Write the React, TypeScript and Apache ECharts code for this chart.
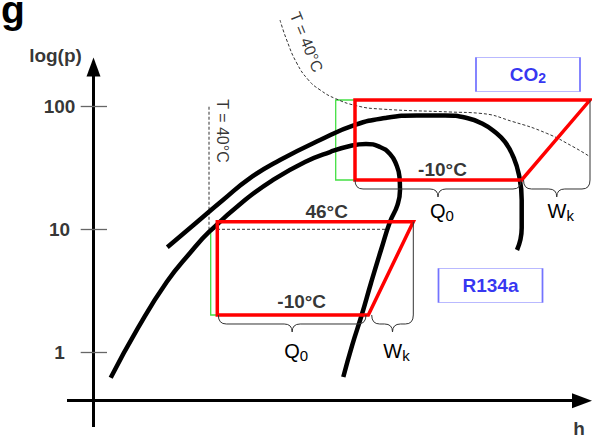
import React, { useEffect, useRef } from "react";
import * as echarts from "echarts";

const FONT = '"Liberation Sans", Arial, Helvetica, sans-serif';

// h: specific enthalpy (arbitrary units, 0 at the p-axis); p: pressure in bar (log axis)
const r134aDome: [number, number][] = [
  [17.2, 0.622], [44.5, 1.58], [73.2, 3.73], [96.5, 6.42], [116.5, 9.69],
  [151.5, 17.3], [179.5, 25.2], [211.5, 35.3], [236.5, 42.5], [256.5, 47.6],
  [272.5, 49.4], [286.5, 46.7], [296.5, 41.0], [302.5, 34.0], [306, 26.6],
  [306.5, 20.9], [304, 15.8], [296.5, 11.5], [287.5, 6.79], [277.5, 3.66],
  [268.2, 2.01], [258.5, 1.13], [249.8, 0.63],
];
const co2Dome: [number, number][] = [
  [73.8, 7.14], [96.5, 10.25], [129.5, 17.3], [156.5, 26.1], [186.5, 36.6],
  [226.5, 53.2], [261.5, 70.5], [291.5, 80.3], [323.5, 84.2], [351.5, 84.2],
  [373.5, 80.3], [389.5, 71.8], [401.5, 61.8], [411.5, 51.3], [419.5, 39.4],
  [425.5, 27.6], [428.2, 17.3], [428.2, 10.25], [423.5, 6.79],
];
const co2Isotherm40: [number, number][] = [
  [186.5, 503], [193.2, 346], [203.2, 225], [214.8, 164], [226.5, 136],
  [241.5, 116], [263.2, 101], [286.5, 95.1], [356.5, 89.9], [386.5, 87.7],
  [419.5, 75.0], [453.2, 60.3], [479.5, 47.0], [496.5, 38.9],
];
const r134aIsotherm40: [number, number][] = [[115.5, 99.2], [115.5, 10]];
const r134aCondensing46: [number, number][] = [[118.5, 10], [293.2, 10]];
const r134aCycle: [number, number][] = [
  [123.8, 11.53], [319.8, 11.53], [274.8, 2.011], [123.8, 2.011], [123.8, 11.53],
];
const co2Cycle: [number, number][] = [
  [261.5, 112.5], [496.5, 112.5], [428.2, 25.17], [261.5, 25.17], [261.5, 112.5],
];
const r134aSubcool: [number, number][] = [[117.2, 10.0], [117.2, 2.011], [123.8, 2.011]];
const co2Subcool: [number, number][] = [[261.5, 112.5], [242.2, 112.5], [242.2, 25.17], [261.5, 25.17]];

const yTicks = [1, 10, 100];

const cycleTempLabels = ["-10°C", "46°C", "-10°C"];
const cycleTempPos: [number, number][] = [[349, 30.9], [233.2, 13.9], [208.2, 2.58]];

// braces: [h start, h end, p, p to which the right end extends (0 = none)]
const braceData: [number, number, number, number][] = [
  [124.8, 272.5, 2.011, 0],
  [278.2, 319.8, 2.011, 11.53],
  [261.5, 427.5, 25.17, 0],
  [430, 496.5, 25.17, 112.5],
];
const braceLabels = [["Q", "0"], ["W", "k"], ["Q", "0"], ["W", "k"]];

const refrigerants = ["CO2", "R134a"];
const refrigerantPos: [number, number][] = [[434.5, 181.4], [397, 3.492]];

const isothermLabels = ["T = 40°C", "T = 40°C"];
const isothermPos: [number, number][] = [[213, 333.3], [128.5, 63.0]];

export default function App() {
  const ref = useRef<HTMLDivElement>(null);

  useEffect(() => {
    if (!ref.current) return;
    const chart = echarts.init(ref.current, null, { renderer: "svg" });

    const line = (name: string, data: [number, number][], color: string, width: number, extra: any = {}) => ({
      type: "line",
      name,
      data,
      symbol: "none",
      silent: true,
      animation: false,
      z: extra.z ?? 2,
      smooth: extra.smooth ?? false,
      lineStyle: { color, width, type: extra.dash ?? "solid", join: "miter", cap: extra.cap ?? "butt" },
    });

    const subRich = (size: number, subSize: number, color: string, bold: boolean, lh: number, subLh: number) => ({
      m: { fontSize: size, fontWeight: bold ? "bold" : "normal", color, fontFamily: FONT, lineHeight: lh },
      s: { fontSize: subSize, fontWeight: bold ? "bold" : "normal", color, fontFamily: FONT, lineHeight: subLh, verticalAlign: "bottom" },
    });

    const option: any = {
      animation: false,
      backgroundColor: "#ffffff",
      grid: { left: 0, right: 0, top: 0, bottom: 0 },
      xAxis: { type: "value", min: -93.5, max: 498.5, show: false },
      yAxis: { type: "log", logBase: 10, min: 0.2011, max: 731.5, show: false },
      graphic: [
        {
          type: "text",
          x: 1,
          y: 9,
          style: { text: "g", fontSize: 39, fontWeight: "bold", fontFamily: FONT, fill: "#000", verticalAlign: "middle" },
        },
      ],
      series: [
        line("CO2 subcooling", co2Subcool, "#44e044", 1.3),
        line("R134a subcooling", r134aSubcool, "#44e044", 1.3),
        line("R134a T=40°C", r134aIsotherm40, "#333", 1, { dash: [3, 2] }),
        line("R134a 46°C", r134aCondensing46, "#333", 1, { dash: [3, 2] }),
        line("CO2 T=40°C", co2Isotherm40, "#333", 1, { dash: [3, 2], smooth: 0.5 }),
        line("R134a", r134aDome, "#000", 4.5, { smooth: 0.5, z: 3 }),
        line("CO2", co2Dome, "#000", 4.5, { smooth: 0.5, z: 3 }),
        line("R134a cycle", r134aCycle, "#ff0000", 3.5, { z: 4, cap: "square" }),
        line("CO2 cycle", co2Cycle, "#ff0000", 3.5, { z: 4, cap: "square" }),
        {
          type: "custom",
          name: "braces",
          data: braceData,
          encode: { x: [0, 1], y: 2 },
          silent: true,
          clip: false,
          z: 5,
          renderItem: (params: any, api: any) => {
            const h1 = api.value(0), h2 = api.value(1), p = api.value(2), toP = api.value(3);
            const a = api.coord([h1, p]);
            const b = api.coord([h2, p]);
            const x1 = a[0], y0 = a[1], x2 = b[0];
            const r = 8, d1 = 9, d2 = 17;
            const xm = (x1 + x2) / 2;
            let d =
              `M${x1},${y0} Q${x1},${y0 + d1} ${x1 + r},${y0 + d1} L${xm - r},${y0 + d1} ` +
              `Q${xm},${y0 + d1} ${xm},${y0 + d2} Q${xm},${y0 + d1} ${xm + r},${y0 + d1} ` +
              `L${x2 - r},${y0 + d1} Q${x2},${y0 + d1} ${x2},${y0}`;
            if (toP > 0) {
              const t = api.coord([h2, toP]);
              d += ` L${x2},${t[1]}`;
            }
            const lab = braceLabels[params.dataIndex];
            const gap = params.dataIndex < 2 ? 19 : 14;
            return {
              type: "group",
              children: [
                { type: "path", shape: { pathData: d }, style: { fill: "none", stroke: "#333", lineWidth: 1 } },
                {
                  type: "text",
                  x: xm + 4,
                  y: y0 + d2 + gap,
                  style: {
                    text: `{m|${lab[0]}}{s|${lab[1]}}`,
                    align: "center",
                    verticalAlign: "middle",
                    fill: "#000",
                    rich: {
                      m: { fontSize: 20, fontFamily: FONT, fill: "#000", lineHeight: 24 },
                      s: { fontSize: 15, fontFamily: FONT, fill: "#000", lineHeight: 9, verticalAlign: "bottom" },
                    },
                  },
                },
              ],
            };
          },
        },
        {
          type: "scatter",
          name: "axes",
          data: [],
          silent: true,
          z: 6,
          markLine: {
            silent: true,
            animation: false,
            symbol: ["none", "none"],
            label: { show: false },
            lineStyle: { color: "#000", width: 3, type: "solid" },
            data: [
              [
                { coord: [0, 0.247], symbol: "none" },
                { coord: [0, 208.7], symbol: "triangle", symbolSize: [14, 19] },
              ],
              [
                { coord: [-26.5, 0.4042], symbol: "none" },
                { coord: [488.5, 0.4042], symbol: "triangle", symbolSize: [15, 20] },
              ],
            ],
          },
        },
        {
          type: "scatter",
          name: "ticks",
          data: [],
          silent: true,
          z: 5,
          markLine: {
            silent: true,
            animation: false,
            symbol: ["none", "none"],
            label: { show: false },
            lineStyle: { color: "#666", width: 1.3, type: "solid" },
            data: yTicks.map((t) => [{ coord: [-12.8, t] }, { coord: [13.5, t] }]),
          },
        },
        {
          type: "scatter",
          name: "tick labels",
          silent: true,
          symbolSize: 0,
          itemStyle: { color: "transparent" },
          data: yTicks.map((t) => [-34, t]),
          label: {
            show: true,
            position: "inside",
            formatter: (p: any) => String(p.value[1]),
            fontSize: 19,
            fontWeight: "bold",
            fontFamily: FONT,
            color: "#000",
          },
        },
        {
          type: "scatter",
          name: "axis titles",
          silent: true,
          symbolSize: 0,
          itemStyle: { color: "transparent" },
          data: [
            { value: [-38, 260.8], name: "log(p)" },
            { value: [485.5, 0.2418], name: "h" },
          ],
          label: {
            show: true,
            position: "inside",
            formatter: "{b}",
            fontSize: 19,
            fontWeight: "bold",
            fontFamily: FONT,
            color: "#000",
          },
        },
        {
          type: "scatter",
          name: "cycle temperatures",
          silent: true,
          symbolSize: 0,
          z: 6,
          itemStyle: { color: "transparent" },
          data: cycleTempPos.map((v, i) => ({ value: v, name: cycleTempLabels[i] })),
          label: {
            show: true,
            position: "inside",
            formatter: "{b}",
            fontSize: 19,
            fontWeight: "bold",
            fontFamily: FONT,
            color: "#000",
          },
        },
        {
          type: "scatter",
          name: "isotherm labels",
          silent: true,
          symbolSize: 0,
          itemStyle: { color: "transparent" },
          data: isothermPos.map((v, i) => ({
            value: v,
            name: isothermLabels[i],
            label: { rotate: i === 0 ? -68 : -90 },
          })),
          label: {
            show: true,
            position: "inside",
            formatter: "{b}",
            fontSize: 16,
            fontFamily: FONT,
            color: "#000",
          },
        },
        {
          type: "scatter",
          name: "refrigerants",
          silent: true,
          symbol: "rect",
          symbolSize: [104, 34],
          z: 6,
          itemStyle: { color: "#ffffff", borderColor: "#5050ff", borderWidth: 1 },
          data: refrigerantPos.map((v, i) => ({ value: v, name: refrigerants[i] })),
          label: {
            show: true,
            position: "inside",
            formatter: (p: any) => (p.name === "CO2" ? "{m|CO}{s|2}" : "{m|R134a}"),
            rich: subRich(19, 14, "#0000ee", true, 22, 6),
          },
        },
      ],
    };

    chart.setOption(option);
    return () => chart.dispose();
  }, []);

  return (
    <div
      ref={ref}
      style={{ position: "fixed", left: 0, top: 0, width: 592, height: 438, background: "#fff" }}
    />
  );
}
